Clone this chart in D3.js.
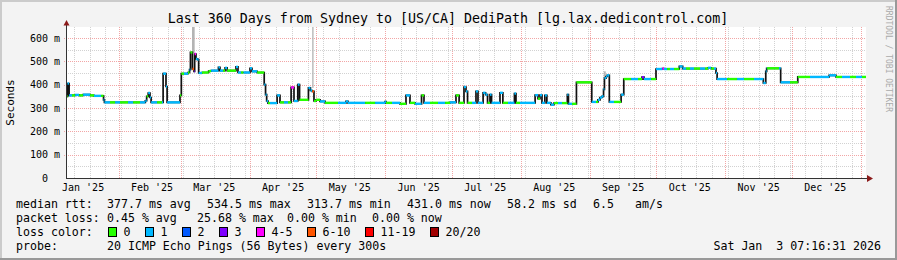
<!DOCTYPE html>
<meta charset="utf-8">
<script src="https://d3js.org/d3.v7.min.js"></script>
<style>
  body { margin: 0; background: #f3f3f3; }
  svg text { font-family: 'DejaVu Sans Mono', monospace; fill: #000; white-space: pre; }
</style>
<div id="chart"></div>
<script>

// median rtt, as runs: start day (days since 1 Jan 2025), value (ms), loss bucket
var runDay = [7.3, 8.0, 8.7, 10.0, 11.4, 13.2, 15.0, 18.1, 19.9, 23.1, 24.2, 24.6, 27.1, 29.4, 31.6, 35.2, 37.5, 40.6,
  43.0, 43.6, 44.3, 45.1, 45.6, 48.3, 50.5, 51.0, 52.3, 52.8, 58.6, 59.2, 60.4, 62.2, 62.9, 63.3, 64.2, 64.9, 65.2,
  65.8, 66.5, 67.0, 68.5, 71.5, 72.6, 75.9, 76.6, 78.0, 78.9, 79.8, 83.8, 84.7, 86.1, 87.2, 90.1, 91.0, 93.3, 96.5,
  97.1, 97.6, 98.2, 99.1, 102.3, 103.6, 105.4, 107.2, 108.6, 109.9, 111.6, 112.4, 116.4, 117.3, 118.1, 118.9, 119.8,
  121.6, 123.9, 129.7, 133.3, 134.2, 141.9, 146.4, 150.9, 151.3, 154.0, 157.6, 160.3, 162.1, 164.4, 167.3, 168.4,
  171.1, 174.7, 177.9, 180.1, 182.8, 184.2, 186.4, 187.3, 188.0, 190.0, 191.8, 192.7, 195.0, 196.1, 197.0, 198.1,
  198.8, 202.6, 203.9, 206.2, 209.1, 209.8, 211.6, 218.4, 219.7, 220.6, 221.5, 222.8, 223.7, 225.5, 226.9, 228.7,
  230.5, 232.9, 233.4, 235.0, 237.0, 243.9, 245.8, 246.7, 247.6, 248.5, 249.2, 249.6, 250.3, 250.8, 251.8, 253.9,
  257.1, 258.3, 261.6, 264.7, 266.5, 267.4, 270.6, 272.8, 275.7, 276.4, 277.8, 279.1, 280.9, 283.3, 284.8, 286.3,
  288.1, 289.9, 292.6, 294.9, 296.2, 297.6, 298.9, 299.8, 300.3, 304.8, 309.3, 312.4, 316.9, 321.1, 322.2, 322.6,
  322.8, 328.2, 328.9, 333.1, 336.6, 342.1, 350.7, 353.8, 356.5, 360.1, 362.8, 365.5];
var runMs = [350, 405, 354, 354, 356, 354, 357, 354, 352, 352, 335, 324, 324, 324, 324, 324, 324, 324,
  331, 350, 364, 345, 324, 324, 324, 447, 392, 324, 354, 447, 447, 452, 464, 538, 467, 457, 531,
  510, 507, 450, 452, 458, 460, 474, 460, 460, 472, 460, 476, 452, 452, 452, 470, 457, 452, 400,
  357, 330, 321, 321, 354, 324, 324, 324, 388, 330, 400, 335, 386, 375, 371, 330, 335,
  328, 322, 322, 328, 322, 322, 322, 327, 322, 322, 318, 354, 322, 318, 354, 322,
  322, 322, 322, 324, 354, 322, 390, 371, 322, 322, 371, 322, 365, 357, 322, 357,
  322, 365, 322, 322, 362, 322, 322, 355, 340, 355, 322, 354, 322, 314, 321, 321,
  321, 357, 318, 318, 410, 326, 326, 335, 345, 350, 380, 428, 435, 440, 326, 326,
  357, 424, 424, 424, 432, 424, 424, 467, 469, 467, 467, 467, 467, 478, 469, 469,
  469, 469, 469, 469, 472, 469, 469, 450, 424, 424, 424, 424, 424, 407, 457, 470,
  470, 470, 410, 410, 433, 433, 440, 433, 433, 433, 433, 433];
var runLoss = [0, 1, 1, 0, 1, 0, 1, 0, 1, 0, 1, 1, 0, 1, 0, 1, 0, 1,
  1, 0, 1, 1, 1, 0, 1, 1, 1, 1, 0, 0, 1, 0, 1, 0, 5, 3, 4,
  1, 1, 1, 0, 0, 1, 1, 1, 0, 1, 0, 1, 1, 0, 1, 1, 1, 0, 1,
  1, 1, 0, 1, 1, 0, 1, 0, 4, 1, 1, 0, 1, 1, 5, 0, 0,
  1, 0, 1, 1, 1, 0, 1, 1, 0, 1, 0, 1, 0, 1, 0, 1,
  0, 1, 0, 1, 0, 0, 1, 1, 0, 1, 1, 1, 1, 1, 0, 1,
  1, 1, 0, 1, 1, 0, 1, 1, 0, 1, 1, 1, 1, 1, 0, 1,
  0, 1, 1, 0, 0, 1, 0, 1, 1, 1, 1, 1, 1, 1, 1, 0,
  1, 0, 1, 0, 3, 1, 0, 1, 4, 1, 0, 1, 0, 1, 1, 0,
  1, 0, 1, 0, 1, 0, 1, 1, 1, 0, 1, 0, 1, 1, 1, 1,
  0, 1, 1, 0, 0, 1, 1, 0, 1, 0, 1, 0];
var endDay = 367.3;

// ping smoke (spread of individual pings)
var smokeFrom = [64.0, 118.1, 249.3];
var smokeTo = [65.2, 118.7, 250.2];
var smokeLo = [536, 386, 430];
var smokeHi = [650, 650, 457];

var lossLabels = ["0", "1", "2", "3", "4-5", "6-10", "11-19", "20/20"];
var lossColors = ["#26ff00", "#00b8ff", "#0059ff", "#7e00ff", "#ff00ff", "#ff5500", "#ff0000", "#a10000"];

var yTicks = [0, 100, 200, 300, 400, 500, 600];
var yTickLabels = ["0  ", "100 m", "200 m", "300 m", "400 m", "500 m", "600 m"];
var yMinor = [50, 150, 250, 350, 450, 550];
var monthLabels = ["Jan '25", "Feb '25", "Mar '25", "Apr '25", "May '25", "Jun '25",
  "Jul '25", "Aug '25", "Sep '25", "Oct '25", "Nov '25", "Dec '25"];

var legendRows = [
  [["median rtt:", 16], ["377.7 ms avg", 107], ["534.5 ms max", 207], ["313.7 ms min", 307],
   ["431.0 ms now", 407], ["58.2 ms sd", 507], ["6.5", 593], ["am/s", 635]],
  [["packet loss:", 16], ["0.45 % avg", 107], ["25.68 % max", 197], ["0.00 % min", 287], ["0.00 % now", 372]],
  [["loss color:", 16]],
  [["probe:", 16], ["20 ICMP Echo Pings (56 Bytes) every 300s", 107]]
];

var W = 897, H = 260;
var pLeft = 66, pRight = 866, pTop = 27, pBottom = 178;
var day0 = Date.UTC(2025, 0, 1);
function toDate(d) { return new Date(day0 + d * 864e5); }

var svg = d3.select("#chart").append("svg")
    .attr("width", W)
    .attr("height", H);

svg.append("rect").attr("width", W).attr("height", H).attr("fill", "#f3f3f3");
svg.append("rect").attr("width", W).attr("height", 2).attr("fill", "#cbcbcb");
svg.append("rect").attr("width", 2).attr("height", H).attr("fill", "#cbcbcb");
svg.append("rect").attr("y", H - 2).attr("width", W).attr("height", 2).attr("fill", "#999");
svg.append("rect").attr("x", W - 2).attr("width", 2).attr("height", H).attr("fill", "#999");

var start = new Date(Date.UTC(2025, 0, 8, 7, 16, 31)),
    end = new Date(Date.UTC(2026, 0, 3, 7, 16, 31));
var x = d3.scaleUtc().domain([start, end]).range([pLeft, pRight]);
var y = d3.scaleLinear().domain([0, 647]).range([pBottom, pTop]);

svg.append("rect")
    .attr("x", pLeft).attr("y", pTop)
    .attr("width", pRight - pLeft).attr("height", pBottom - pTop)
    .attr("fill", "#fff");

function px(v) { return Math.round(v) + 0.5; }

// grid
var grid = svg.append("g").attr("fill", "none").attr("stroke-width", 1).attr("stroke-dasharray", "1,1");
grid.selectAll(null).data(d3.utcSunday.range(start, end)).enter().append("line")
    .attr("x1", d => px(x(d))).attr("x2", d => px(x(d)))
    .attr("y1", pTop).attr("y2", pBottom)
    .attr("stroke", "#d2d2d2");
grid.selectAll(null).data(yMinor).enter().append("line")
    .attr("x1", pLeft).attr("x2", pRight)
    .attr("y1", d => px(y(d))).attr("y2", d => px(y(d)))
    .attr("stroke", "#d2d2d2");
grid.selectAll(null).data(d3.utcMonth.range(start, end)).enter().append("line")
    .attr("x1", d => px(x(d))).attr("x2", d => px(x(d)))
    .attr("y1", pTop).attr("y2", pBottom)
    .attr("stroke", "#f2a6a6");
grid.selectAll(null).data(yTicks.slice(1)).enter().append("line")
    .attr("x1", pLeft - 2).attr("x2", pRight)
    .attr("y1", d => px(y(d))).attr("y2", d => px(y(d)))
    .attr("stroke", "#f2a6a6");

// smoke
svg.append("g").selectAll("rect").data(smokeFrom).enter().append("rect")
    .attr("x", d => x(toDate(d)))
    .attr("width", (d, i) => x(toDate(smokeTo[i])) - x(toDate(d)))
    .attr("y", (d, i) => Math.max(pTop, y(smokeHi[i])))
    .attr("height", (d, i) => y(smokeLo[i]) - Math.max(pTop, y(smokeHi[i])))
    .attr("fill", "#b4b4b4");

// median: black steps, loss-coloured flats
var pts = runDay.map((d, i) => [d, runMs[i]]);
pts.push([endDay, runMs[runMs.length - 1]]);
svg.append("path")
    .datum(pts)
    .attr("fill", "none")
    .attr("stroke", "#111")
    .attr("stroke-width", 1.7)
    .attr("d", d3.line().x(d => x(toDate(d[0]))).y(d => y(d[1])).curve(d3.curveStepAfter));

svg.append("g").selectAll("line").data(runDay).enter().append("line")
    .attr("x1", d => x(toDate(d)))
    .attr("x2", (d, i) => x(toDate(i + 1 < runDay.length ? runDay[i + 1] : endDay)))
    .attr("y1", (d, i) => y(runMs[i]))
    .attr("y2", (d, i) => y(runMs[i]))
    .attr("stroke", (d, i) => lossColors[runLoss[i]])
    .attr("stroke-width", 2.4);

// axes
var axisCol = "#333";
svg.append("line").attr("x1", pLeft + 0.5).attr("x2", pLeft + 0.5).attr("y1", 24).attr("y2", pBottom)
    .attr("stroke", axisCol);
svg.append("line").attr("x1", pLeft).attr("x2", 869).attr("y1", pBottom + 0.5).attr("y2", pBottom + 0.5)
    .attr("stroke", axisCol);
svg.append("path").attr("d", "M63.5,25.5 L66.5,20 L69.5,25.5 Z").attr("fill", "#8b1a1a");
svg.append("path").attr("d", "M867,175 L873,178.5 L867,182 Z").attr("fill", "#8b1a1a");

svg.selectAll(null).data(yTicks).enter().append("text")
    .attr("x", 60)
    .attr("y", d => y(d) + 3.6)
    .attr("text-anchor", "end")
    .style("font-size", "10px")
    .text((d, i) => yTickLabels[i]);

svg.selectAll(null).data(monthLabels).enter().append("text")
    .attr("x", (d, i) => x(new Date(Date.UTC(2025, i, 16))))
    .attr("y", 190.5)
    .attr("text-anchor", "middle")
    .style("font-size", "10px")
    .text(d => d);

svg.append("text")
    .attr("transform", "translate(14," + ((pTop + pBottom) / 2) + ") rotate(-90)")
    .attr("text-anchor", "middle")
    .style("font-size", "11px")
    .text("Seconds");

svg.append("text")
    .attr("x", 448).attr("y", 23)
    .attr("text-anchor", "middle")
    .style("font-size", "13.3px")
    .text("Last 360 Days from Sydney to [US/CA] DediPath [lg.lax.dedicontrol.com]");

svg.append("text")
    .attr("transform", "translate(886,59) rotate(90)")
    .attr("text-anchor", "middle")
    .style("font-size", "8px")
    .style("fill", "#aaa")
    .text("RRDTOOL / TOBI OETIKER");

// legend
var rowY = [208, 222, 236, 250];
legendRows.forEach(function(row, r) {
  svg.selectAll(null).data(row).enter().append("text")
      .attr("x", d => d[1])
      .attr("y", rowY[r])
      .style("font-size", "11.6px")
      .text(d => d[0]);
});

var cw = 7.0, lx = 108.5;
lossLabels.forEach(function(lab, i) {
  svg.append("rect")
      .attr("x", lx).attr("y", 227.5)
      .attr("width", 8).attr("height", 9)
      .attr("fill", lossColors[i])
      .attr("stroke", "#000")
      .attr("stroke-width", 1);
  svg.append("text")
      .attr("x", lx + 15).attr("y", rowY[2])
      .style("font-size", "11.6px")
      .text(lab);
  lx += 15 + lab.length * cw + 15;
});

svg.append("text")
    .attr("x", 881).attr("y", rowY[3])
    .attr("text-anchor", "end")
    .style("font-size", "11.6px")
    .text("Sat Jan  3 07:16:31 2026");

</script>
